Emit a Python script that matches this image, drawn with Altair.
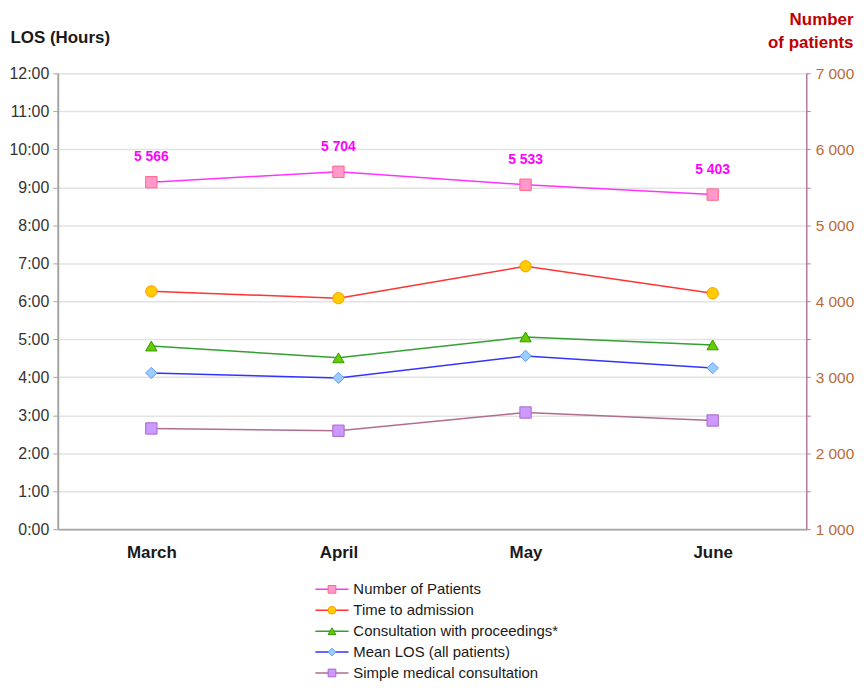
import altair as alt
import pandas as pd

months = ["March", "April", "May", "June"]
patients = [5566, 5704, 5533, 5403]
time_to_admission = [6.26, 6.08, 6.92, 6.21]
consult_proc = [4.82, 4.51, 5.06, 4.85]
mean_los = [4.11, 3.98, 4.56, 4.24]
simple_consult = [2.65, 2.59, 3.07, 2.86]

series_names = ["Number of Patients", "Time to admission",
                "Consultation with proceedings*", "Mean LOS (all patients)",
                "Simple medical consultation"]
line_colors = ["#ff33ff", "#ff3333", "#33a033", "#3333ff", "#b06d8e"]
fill_colors = ["#ff99cc", "#ffcc00", "#66cc00", "#99ccff", "#cc99ff"]
edge_colors = ["#ff6688", "#ff9900", "#339900", "#6699ff", "#aa66cc"]
shapes = ["square", "circle", "triangle-up", "diamond", "square"]

FONT = "Liberation Sans"

los_series = {
    series_names[1]: time_to_admission,
    series_names[2]: consult_proc,
    series_names[3]: mean_los,
    series_names[4]: simple_consult,
}
rows = []
for s, vals in los_series.items():
    for m, v in zip(months, vals):
        rows.append({"month": m, "series": s, "name": s + " ", "value": v})
los_df = pd.DataFrame(rows)
pat_df = pd.DataFrame({"month": months, "series": series_names[0],
                       "name": series_names[0] + " ", "value": patients})

marker_names = [s + " " for s in series_names]

x_enc = alt.X("month:N", sort=months,
              scale=alt.Scale(domain=months),
              axis=alt.Axis(title=None, labelAngle=0, labelFontWeight="bold",
                            labelFontSize=17, labelColor="#1a1a1a", labelFont=FONT,
                            ticks=False, domainColor="#a6a6a6", domainWidth=2,
                            labelPadding=16))

LEG_X = 268
LEG_Y = 511
legend_lines = alt.Legend(title=None, orient="none", legendX=LEG_X, legendY=LEG_Y,
                          direction="vertical", symbolType="M-4.3,0H4.3",
                          symbolSize=60, symbolStrokeWidth=1.5,
                          labelFontSize=15, labelFont=FONT, labelColor="#1a1a1a",
                          labelOffset=14, rowPadding=5, padding=0, labelLimit=0)
legend_marks = alt.Legend(title=None, orient="none", legendX=LEG_X, legendY=LEG_Y,
                          direction="vertical", symbolSize=60, symbolStrokeWidth=1,
                          labelFontSize=15, labelFont=FONT, labelExpr="''",
                          labelOffset=14, rowPadding=5, padding=0)

color_enc = alt.Color("series:N", scale=alt.Scale(domain=series_names, range=line_colors),
                      legend=legend_lines)
fill_enc = alt.Fill("name:N", scale=alt.Scale(domain=marker_names, range=fill_colors),
                    legend=legend_marks)
stroke_enc = alt.Stroke("name:N", scale=alt.Scale(domain=marker_names, range=edge_colors),
                        legend=legend_marks)
shape_enc = alt.Shape("name:N", scale=alt.Scale(domain=marker_names, range=shapes),
                      legend=legend_marks)

y_left = alt.Y("value:Q", scale=alt.Scale(domain=[0, 12], nice=False),
               axis=alt.Axis(values=list(range(0, 13)), labelExpr="datum.value + ':00'",
                             title="LOS (Hours)", titleAngle=0, titleAlign="left",
                             titleX=-48, titleY=-31, titleBaseline="alphabetic",
                             titleFontSize=17, titleFontWeight="bold", titleColor="#1a1a1a",
                             titleFont=FONT, labelFont=FONT,
                             labelFontSize=16, labelColor="#333333", labelPadding=4,
                             domainColor="#a6a6a6", domainWidth=2,
                             tickColor="#a6a6a6", tickSize=5,
                             gridColor="#e3e3e3", gridWidth=1.5))

y_right = alt.Y("value:Q", scale=alt.Scale(domain=[1000, 7000], nice=False),
                axis=alt.Axis(orient="right", values=list(range(1000, 7001, 500)),
                              labelExpr="datum.value % 1000 == 0 ? replace(format(datum.value, ','), ',', ' ') : ''",
                              grid=False, domainColor="#b57a9e", domainWidth=1.5,
                              tickColor="#b57a9e", tickSize=4,
                              labelColor="#b86a3c", labelFontSize=15.5, labelFont=FONT,
                              labelPadding=5,
                              title=["Number", "of patients"], titleColor="#c00000",
                              titleFontSize=17, titleFontWeight="bold", titleFont=FONT,
                              titleAngle=0, titleAlign="right", titleX=47, titleY=-49,
                              titleBaseline="alphabetic", titleLineHeight=23))

left_base = alt.Chart(los_df)
left_lines = left_base.mark_line(strokeWidth=1.5).encode(x=x_enc, y=y_left, color=color_enc)
left_points = left_base.mark_point(filled=True, opacity=1, size=130, strokeWidth=1).encode(
    x=x_enc, y=y_left, fill=fill_enc, stroke=stroke_enc, shape=shape_enc)
left = alt.layer(left_lines, left_points)

right_base = alt.Chart(pat_df)
right_lines = right_base.mark_line(strokeWidth=1.5).encode(x=x_enc, y=y_right, color=color_enc)
right_points = right_base.mark_point(filled=True, opacity=1, size=130, strokeWidth=1).encode(
    x=x_enc, y=y_right, fill=fill_enc, stroke=stroke_enc, shape=shape_enc)
right_text = right_base.transform_calculate(
    label="replace(format(datum.value, ','), ',', ' ')"
).mark_text(dy=-25, fontWeight="bold", fontSize=14, color="#ff00ff",
            font="Liberation Sans Narrow, Liberation Sans").encode(
    x=x_enc, y=y_right, text="label:N")
right = alt.layer(right_lines, right_points, right_text)

chart = alt.layer(left, right).resolve_scale(y="independent").properties(
    width=752, height=458,
    autosize=alt.AutoSizeParams(type="none"),
    padding={"left": 50, "top": 64, "right": 50, "bottom": 151}
).configure_view(stroke=None).configure(font=FONT)

chart.save("out.html", embed_options={"renderer": "svg", "actions": False})
